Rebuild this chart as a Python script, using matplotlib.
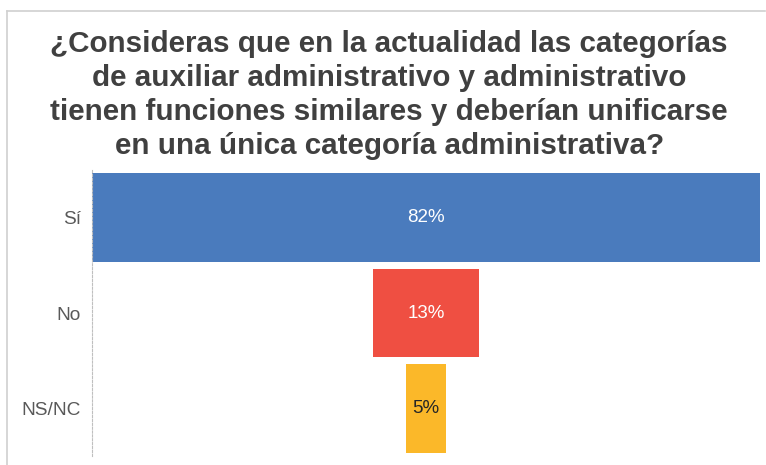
import matplotlib
matplotlib.use("Agg")
import matplotlib.pyplot as plt
from matplotlib.lines import Line2D

categories = ["Sí", "No", "NS/NC"]
values = [82, 13, 5]
labels = ["82%", "13%", "5%"]
colors = ["#4a7bbd", "#ef4f42", "#fbb829"]
label_colors = ["white", "white", "#262626"]

title = ("¿Consideras que en la actualidad las categorías\n"
         "de auxiliar administrativo y administrativo\n"
         "tienen funciones similares y deberían unificarse\n"
         "en una única categoría administrativa?")

plt.rcParams["font.family"] = ["Liberation Sans", "DejaVu Sans"]

fig = plt.figure(figsize=(7.66, 4.65), dpi=100)
W, H = 766, 465

# panel frame (left and top edges)
fig.add_artist(Line2D([7 / W, 7 / W], [0, 1 - 11 / H], color="#d0d0d0", lw=1.2))
fig.add_artist(Line2D([7 / W, 765 / W], [1 - 11 / H, 1 - 11 / H], color="#d0d0d0", lw=1.2))

fig.text(0.508, 1 - 95 / H, title, ha="center", va="center", fontsize=21.3,
         fontweight="bold", color="#404040", linespacing=1.27)

ax = fig.add_axes([92 / W, 1 - 456 / H, (760 - 92) / W, (456 - 170) / H])
half = max(values) / 2
ypos = list(range(len(categories)))
lefts = [-v / 2 for v in values]
ax.barh(ypos, values, left=lefts, height=0.93, color=colors)
for y, lab, c in zip(ypos, labels, label_colors):
    ax.text(0, y, lab, ha="center", va="center", fontsize=13.5, color=c)

ax.set_xlim(-half, half)
ax.set_ylim(len(categories) - 0.5, -0.5)
ax.set_yticks(ypos)
ax.set_yticklabels(categories, fontsize=13.8, color="#595959")
ax.tick_params(axis="y", length=0, pad=8)
ax.set_xticks([])
for s in ["top", "right", "bottom"]:
    ax.spines[s].set_visible(False)
ax.spines["left"].set_color("#bfbfbf")
ax.spines["left"].set_linestyle((0, (2, 1.5)))
ax.spines["left"].set_linewidth(0.8)

fig.savefig("out.png", dpi=100)
